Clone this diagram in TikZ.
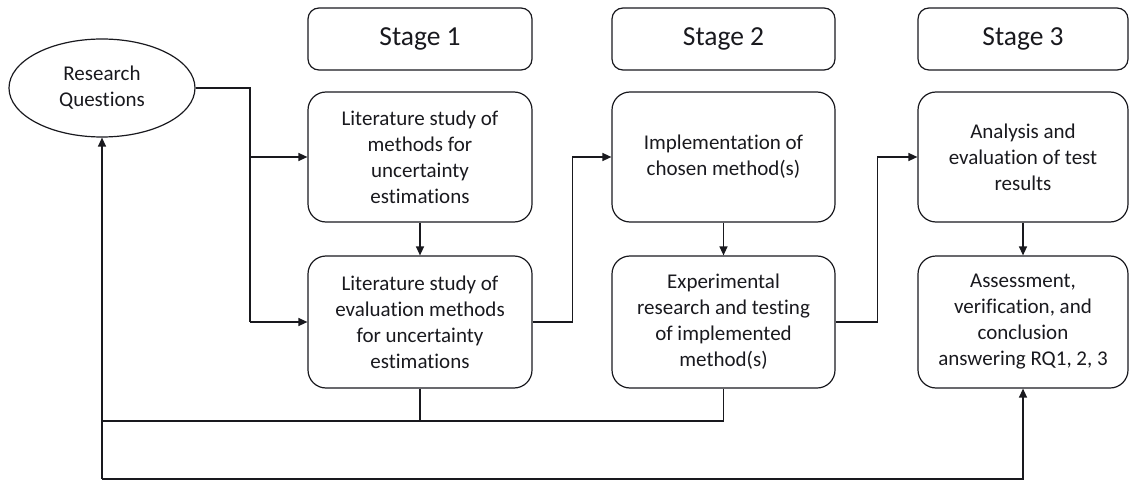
\documentclass[tikz,border=0pt]{standalone}
\usepackage{fontspec}
\setmainfont{Carlito}[Ligatures=NoCommon]
\usetikzlibrary{arrows.meta,shapes.geometric}
\definecolor{ink}{RGB}{25,25,30}
\begin{document}
\begin{tikzpicture}[x=1pt,y=-1pt,
  every node/.style={text=ink},
  box/.style={draw=ink, line width=1.2pt, rounded corners=18pt, align=center,
    font=\fontsize{21}{26}\selectfont, inner sep=0pt},
  stagebox/.style={draw=ink, line width=1.2pt, rounded corners=11pt, align=center,
    font=\fontsize{27.5}{30}\selectfont, inner sep=0pt, minimum height=62pt},
  conn/.style={draw=ink, line width=1.3pt},
  arr/.style={conn, -{Triangle[length=9pt,width=8pt]}}]
\useasboundingbox (0,0) rectangle (1134,481);

% research questions
\node[ellipse, draw=ink, line width=1.2pt, minimum width=186pt, minimum height=98pt,
  align=center, font=\fontsize{21}{26}\selectfont, inner sep=0pt] (rq) at (102,88)
  {Research\\Questions};

% stage headers
\node[stagebox, minimum width=224pt] (st1) at (420,39) {Stage 1};
\node[stagebox, minimum width=223pt] (st2) at (723.5,39) {Stage 2};
\node[stagebox, minimum width=210pt] (st3) at (1023,39) {Stage 3};

% row 1
\node[box, minimum width=224pt, minimum height=130pt] (b11) at (420,157)
  {Literature study of\\methods for\\uncertainty\\estimations};
\node[box, minimum width=223pt, minimum height=130pt] (b21) at (723.5,157)
  {Implementation of\\chosen method(s)};
\node[box, minimum width=210pt, minimum height=130pt] (b31) at (1023,157)
  {Analysis and\\evaluation of test\\results};

% row 2
\node[box, minimum width=224pt, minimum height=132pt] (b12) at (420,322)
  {Literature study of\\evaluation methods\\for uncertainty\\estimations};
\node[box, minimum width=223pt, minimum height=132pt] (b22) at (723.5,322)
  {Experimental\\research and testing\\of implemented\\method(s)};
\node[box, minimum width=210pt, minimum height=132pt] (b32) at (1023,322)
  {Assessment,\\verification, and\\conclusion\\answering RQ1, 2, 3};

% connectors
\coordinate (s1) at (250,0);
\draw[conn] (rq.east) -| (s1 |- b12.west);
\draw[arr] (s1 |- b11.west) -- (b11.west);
\draw[arr] (s1 |- b12.west) -- (b12.west);

\draw[arr] (b11.south) -- (b12.north);
\draw[arr] (b21.south) -- (b22.north);
\draw[arr] (b31.south) -- (b32.north);

\draw[arr] (b12.east) -- ++(40,0) |- (b21.west);
\draw[arr] (b22.east) -- ++(42,0) |- (b31.west);

% feedback
\coordinate (fb) at (102,421);
\coordinate (bl) at (102,479);
\draw[conn] (b22.south) |- (fb);
\draw[conn] (b12.south) -- (b12.south |- fb);
\draw[arr] (bl) -- (rq.south);
\draw[arr] (bl) -| (b32.south);
\end{tikzpicture}
\end{document}
